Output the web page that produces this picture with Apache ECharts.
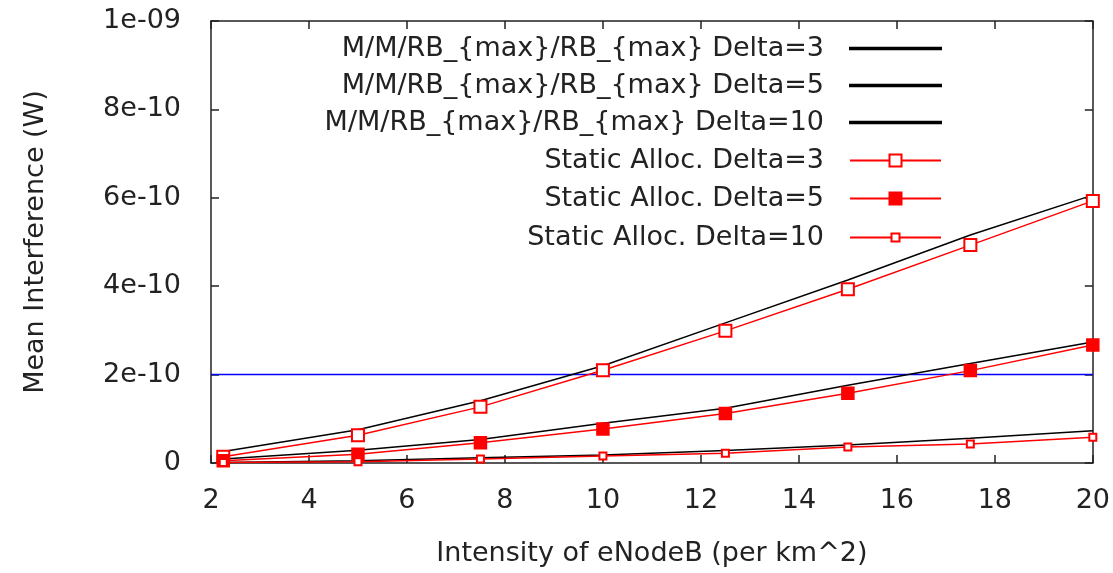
<!DOCTYPE html>
<html>
<head>
<meta charset="utf-8">
<script src="https://cdn.jsdelivr.net/npm/echarts@6/dist/echarts.min.js"></script>
<style>html,body{margin:0;padding:0;background:#fff;}#c{width:1113px;height:573px;}</style>
</head>
<body>
<div id="c"></div>
<script>
var xValues = [2.25, 5, 7.5, 10, 12.5, 15, 17.5, 20];
var mmDelta3 = [0.26e-10, 0.75e-10, 1.41e-10, 2.2e-10, 3.17e-10, 4.14e-10, 5.16e-10, 6.06e-10];
var mmDelta5 = [0.09e-10, 0.29e-10, 0.53e-10, 0.9e-10, 1.24e-10, 1.76e-10, 2.25e-10, 2.74e-10];
var mmDelta10 = [0.01e-10, 0.05e-10, 0.12e-10, 0.18e-10, 0.28e-10, 0.41e-10, 0.56e-10, 0.73e-10];
var staticDelta3 = [0.14e-10, 0.63e-10, 1.27e-10, 2.1e-10, 2.99e-10, 3.93e-10, 4.93e-10, 5.93e-10];
var staticDelta5 = [0.05e-10, 0.2e-10, 0.46e-10, 0.77e-10, 1.12e-10, 1.58e-10, 2.09e-10, 2.67e-10];
var staticDelta10 = [0.01e-10, 0.03e-10, 0.09e-10, 0.16e-10, 0.22e-10, 0.36e-10, 0.43e-10, 0.58e-10];
var thresholdLevel = 2e-10;
var seriesNames = [
  'M/M/RB_{max}/RB_{max} Delta=3',
  'M/M/RB_{max}/RB_{max} Delta=5',
  'M/M/RB_{max}/RB_{max} Delta=10',
  'Static Alloc. Delta=3',
  'Static Alloc. Delta=5',
  'Static Alloc. Delta=10'
];
var yTickLabels = ['0', '2e-10', '4e-10', '6e-10', '8e-10', '1e-09'];
var xAxisName = 'Intensity of eNodeB (per km^2)';
var yAxisName = 'Mean Interference (W)';

function pairs(ys) { return xValues.map(function (x, i) { return [x, ys[i]]; }); }

var FONT = 'DejaVu Sans';
var TXT = '#222';
var frame = { show: true, onZero: false, lineStyle: { color: '#222', width: 1.5 } };

var chart = echarts.init(document.getElementById('c'), null, { renderer: 'canvas' });

var legendRows = [47, 84, 121, 159, 197, 236];
var legends = seriesNames.map(function (n, i) {
  var black = i < 3;
  return {
    data: [n],
    orient: 'vertical',
    right: 1113 - 942,
    top: legendRows[i] - 12,
    align: 'right',
    itemWidth: 91,
    itemHeight: black ? 1.5 : (i === 5 ? 10 : 15),
    icon: black ? 'rect' : undefined,
    itemGap: 0,
    padding: 0,
    selectedMode: false,
    textStyle: { fontFamily: FONT, fontSize: 27, color: TXT, padding: [0, 21, 0, 0] }
  };
});

function lineSeries(name, ys, color, symbol, size) {
  return {
    name: name,
    type: 'line',
    data: pairs(ys),
    symbol: symbol,
    symbolSize: size,
    showSymbol: symbol !== 'none',
    lineStyle: { color: color, width: 1.5 },
    itemStyle: { color: color, borderColor: color, borderWidth: 1.5 },
    emphasis: { disabled: true },
    animation: false,
    z: 3
  };
}

chart.setOption({
  backgroundColor: '#fff',
  animation: false,
  legend: legends,
  grid: { left: 211, right: 19, top: 21, bottom: 110, containLabel: false },
  xAxis: [{
    type: 'value', min: 2, max: 20, interval: 2, position: 'bottom',
    name: xAxisName, nameLocation: 'middle', nameGap: 77,
    nameTextStyle: { fontFamily: FONT, fontSize: 27, color: TXT },
    axisLine: frame,
    axisTick: { show: true, inside: true, length: 8, lineStyle: { color: '#222', width: 1.5 } },
    axisLabel: { fontFamily: FONT, fontSize: 27, color: TXT, margin: 24 },
    splitLine: { show: false }
  }, {
    type: 'value', min: 2, max: 20, interval: 2, position: 'top',
    axisLine: frame,
    axisTick: { show: true, inside: true, length: 8, lineStyle: { color: '#222', width: 1.5 } },
    axisLabel: { show: false },
    splitLine: { show: false }
  }],
  yAxis: [{
    type: 'value', min: 0, max: 1e-9, interval: 2e-10, position: 'left',
    name: yAxisName, nameLocation: 'middle', nameGap: 162, nameRotate: 90,
    nameTextStyle: { fontFamily: FONT, fontSize: 27, color: TXT },
    axisLine: frame,
    axisTick: { show: true, inside: true, length: 8, lineStyle: { color: '#222', width: 1.5 } },
    axisLabel: {
      fontFamily: FONT, fontSize: 27, color: TXT, margin: 30,
      formatter: function (v) { return yTickLabels[Math.round(v / 2e-10)]; }
    },
    splitLine: { show: false }
  }, {
    type: 'value', min: 0, max: 1e-9, interval: 2e-10, position: 'right',
    axisLine: frame,
    axisTick: { show: true, inside: true, length: 8, lineStyle: { color: '#222', width: 1.5 } },
    axisLabel: { show: false },
    splitLine: { show: false }
  }],
  series: [
    lineSeries(seriesNames[0], mmDelta3, '#000', 'none', 0),
    lineSeries(seriesNames[1], mmDelta5, '#000', 'none', 0),
    lineSeries(seriesNames[2], mmDelta10, '#000', 'none', 0),
    lineSeries(seriesNames[3], staticDelta3, '#ff0000', 'emptyRect', 12),
    lineSeries(seriesNames[4], staticDelta5, '#ff0000', 'rect', 12),
    lineSeries(seriesNames[5], staticDelta10, '#ff0000', 'emptyRect', 7),
    {
      name: 'threshold', type: 'line', symbol: 'none',
      data: [[2, thresholdLevel], [20, thresholdLevel]],
      lineStyle: { color: '#0000ff', width: 1.5 }, z: 2, animation: false
    }
  ]
});
</script>
</body>
</html>
